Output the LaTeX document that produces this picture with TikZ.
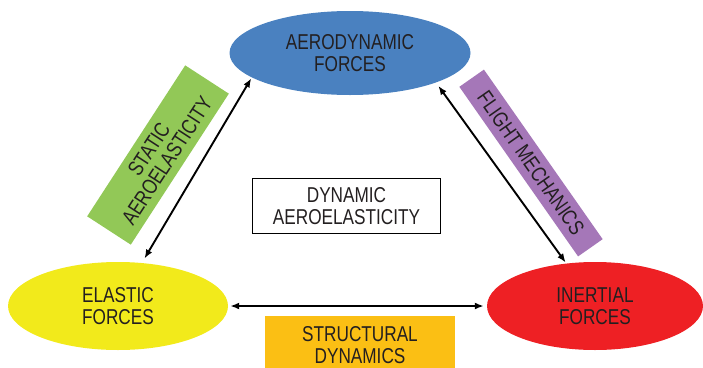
\documentclass[tikz,border=0pt]{standalone}
\usepackage{fontspec}
\setmainfont{Liberation Sans}[FakeStretch=0.8]
\usetikzlibrary{shapes.geometric,arrows.meta}
\definecolor{aeroblue}{HTML}{4A81C0}
\definecolor{elyellow}{HTML}{F2EA1B}
\definecolor{inred}{HTML}{EE2024}
\definecolor{stgreen}{HTML}{92C857}
\definecolor{flpurple}{HTML}{A577B8}
\definecolor{sdorange}{HTML}{FBBF14}
\definecolor{txt}{HTML}{231F20}
\tikzset{
  lbl/.style={font=\fontsize{21.5}{21.5}\selectfont, text=txt, align=center, inner sep=0pt},
  forceell/.style={ellipse, lbl},
  bandbox/.style={rectangle, lbl},
  link/.style={line width=1.9pt, black, {Latex[length=9pt,width=7pt]}-{Latex[length=9pt,width=7pt]}}
}
\begin{document}
\begin{tikzpicture}[x=1pt,y=-1pt]
\useasboundingbox (0,0) rectangle (703,367);
\clip (0,0) rectangle (703,367);
\node[forceell, fill=aeroblue, minimum width=241pt, minimum height=84pt] (aero) at (350,53) {AERODYNAMIC\\FORCES};
\node[forceell, fill=elyellow, minimum width=220pt, minimum height=88pt] (elastic) at (118,306) {ELASTIC\\FORCES};
\node[forceell, fill=inred, minimum width=216pt, minimum height=88pt] (inertial) at (595,306) {INERTIAL\\FORCES};
\node[bandbox, fill=stgreen, rotate=57, minimum width=180pt, minimum height=52pt] (static) at (158,155) {STATIC\\AEROELASTICITY};
\node[bandbox, fill=flpurple, rotate=-55, minimum width=207pt, minimum height=30pt] (flight) at (531,163) {FLIGHT MECHANICS};
\node[bandbox, draw=black, line width=1.9pt, minimum width=188pt, minimum height=55pt] (dyn) at (346.5,206) {DYNAMIC\\AEROELASTICITY};
\node[bandbox, fill=sdorange, minimum width=190pt, minimum height=62pt, anchor=north] (struct) at (360,316) {};
\node[lbl] (structtxt) at (360,345) {STRUCTURAL\\DYNAMICS};
\draw[link, shorten <=1pt, shorten >=5pt] (aero.194) -- (elastic.61);
\draw[link, shorten <=4pt, shorten >=1pt] (aero.341) -- (inertial.124);
\draw[link, shorten <=2pt, shorten >=3pt] (elastic.east) -- (inertial.west);
\end{tikzpicture}
\end{document}
